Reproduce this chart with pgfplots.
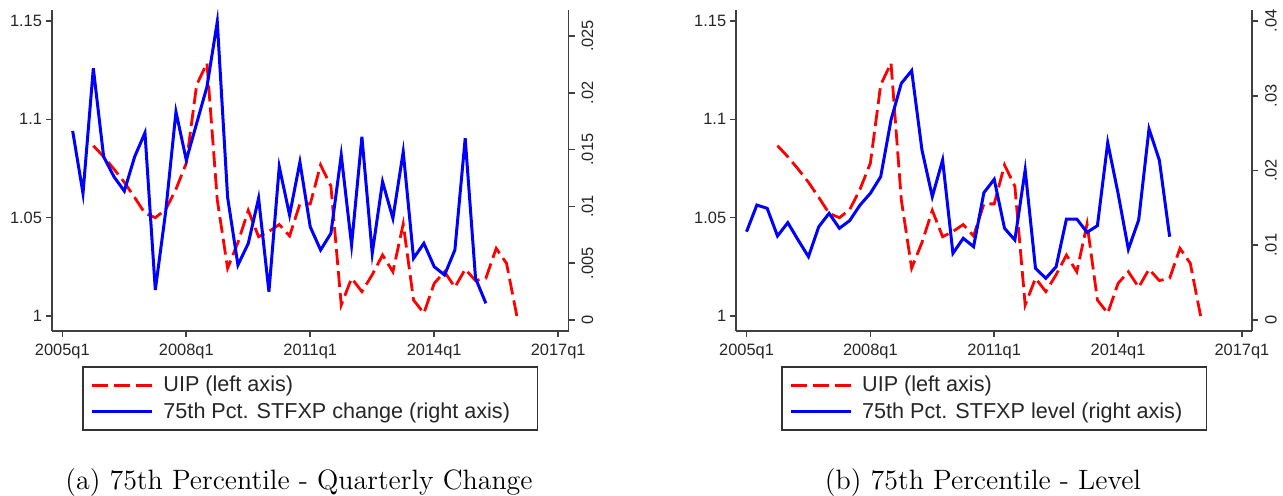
\documentclass[border=0pt]{standalone}
\usepackage{fontspec}
\usepackage{pgfplots}
\usepackage{pgfplotstable}
\pgfplotsset{compat=1.18}
\newfontfamily\arialfont{Liberation Sans}

\pgfplotstableread{
t u
3 1.0866
4 1.0810
5 1.0747
6 1.0680
7 1.0603
8 1.0522
9 1.0500
10 1.0541
11 1.0645
12 1.0777
13 1.1175
14 1.1286
15 1.0590
16 1.0243
17 1.0374
18 1.0537
19 1.0403
20 1.0430
21 1.0465
22 1.0407
23 1.0570
24 1.0570
25 1.0768
26 1.0660
27 1.0056
28 1.0192
29 1.0124
30 1.0210
31 1.0310
32 1.0225
33 1.0468
34 1.0081
35 1.0014
36 1.0166
37 1.0225
38 1.0146
39 1.0238
40 1.0180
41 1.0192
42 1.0344
43 1.0268
44 1.0000
}\uip

\pgfplotstableread{
t v
1 0.01664
2 0.01115
3 0.02215
4 0.01437
5 0.01261
6 0.01135
7 0.01437
8 0.01648
9 0.00264
10 0.00950
11 0.01833
12 0.01408
13 0.01730
14 0.02053
15 0.02625
16 0.01080
17 0.00484
18 0.00674
19 0.01072
20 0.00249
21 0.01349
22 0.00924
23 0.01390
24 0.00820
25 0.00616
26 0.00763
27 0.01452
28 0.00660
29 0.01613
30 0.00587
31 0.01217
32 0.00895
33 0.01481
34 0.00543
35 0.00675
36 0.00469
37 0.00396
38 0.00616
39 0.01599
40 0.00367
41 0.00147
}\chg

\pgfplotstableread{
t v
0 0.01181
1 0.01538
2 0.01494
3 0.01124
4 0.01302
5 0.01070
6 0.00847
7 0.01248
8 0.01427
9 0.01227
10 0.01330
11 0.01538
12 0.01695
13 0.01917
14 0.02676
15 0.03166
16 0.03336
17 0.02274
18 0.01650
19 0.02140
20 0.00892
21 0.01093
22 0.00981
23 0.01703
24 0.01882
25 0.01227
26 0.01070
27 0.02007
28 0.00691
29 0.00558
30 0.00713
31 0.01351
32 0.01351
33 0.01173
34 0.01262
35 0.02372
36 0.01695
37 0.00946
38 0.01338
39 0.02555
40 0.02140
41 0.01114
}\lvl

\pgfplotsset{
  base/.style={
    scale only axis, width=258.25pt, height=160.5pt,
    xmin=-1, xmax=49,
    scaled x ticks=false, scaled y ticks=false,
    axis line style={black!75, line width=0.8pt},
    major tick style={black!75, line width=0.8pt},
    tick align=outside, major tick length=3pt,
    tick label style={font=\arialfont\fontsize{8.2}{9}\selectfont, text=black!85},
  },
  leftax/.style={base, axis y line*=left, axis x line*=bottom,
    ymin=0.99237, ymax=1.1556,
    ytick={1,1.05,1.1,1.15}, yticklabels={1,1.05,1.1,1.15},
    yticklabel style={xshift=1.5pt},
    xtick={0,12,24,36,48}, xticklabels={2005q1,2008q1,2011q1,2014q1,2017q1},
  },
  rightax/.style={base, axis y line*=right, axis x line=none,
    yticklabel style={rotate=90, anchor=north},
    legend style={at={(axis description cs:0.5,-0.109)}, anchor=north,
      draw=black!80, line width=0.8pt,
      font=\arialfont\fontsize{10.8}{13}\selectfont, text=black!85,
      inner xsep=3.7pt, inner ysep=3.5pt, row sep=2pt,
      nodes={inner xsep=0pt, inner ysep=1pt},
      /tikz/every odd column/.append style={column sep=5pt}},
    legend cell align=left,
  },
  uipstyle/.style={red, line width=1.4pt, dash pattern=on 8pt off 3pt},
  bluestyle/.style={blue, line width=1.5pt},
}

\begin{document}
\begin{tikzpicture}
\useasboundingbox (0,0) rectangle (641.5pt,248pt);

% ---- Panel (a)
\begin{axis}[leftax, at={(26pt,82.5pt)}, anchor=south west]
\addplot[uipstyle] table[x=t,y=u] {\uip};
\end{axis}
\begin{axis}[rightax, at={(26pt,82.5pt)}, anchor=south west,
  ymin=-0.000968, ymax=0.02729,
  ytick={0,0.005,0.01,0.015,0.02,0.025}, yticklabels={0,.005,.01,.015,.02,.025},
  legend image code/.code={\draw[#1] (0pt,0pt) -- (30pt,0pt);}]
\addlegendimage{uipstyle}
\addlegendentry{UIP (left axis)}
\addplot[bluestyle] table[x=t,y=v] {\chg};
\addlegendentry{75th Pct. STFXP change (right axis)\hspace*{10pt}}
\end{axis}
\node[anchor=base, font=\fontsize{14}{16}\selectfont] at (149.5pt,3.25pt) {(a) 75th Percentile - Quarterly Change};

% ---- Panel (b)
\begin{axis}[leftax, at={(368.1pt,82.5pt)}, anchor=south west, width=258pt]
\addplot[uipstyle] table[x=t,y=u] {\uip};
\end{axis}
\begin{axis}[rightax, at={(368.1pt,82.5pt)}, anchor=south west, width=258pt,
  ymin=-0.00147, ymax=0.04147,
  ytick={0,0.01,0.02,0.03,0.04}, yticklabels={0,.01,.02,.03,.04},
  legend image code/.code={\draw[#1] (0pt,0pt) -- (30pt,0pt);}]
\addlegendimage{uipstyle}
\addlegendentry{UIP (left axis)}
\addplot[bluestyle] table[x=t,y=v] {\lvl};
\addlegendentry{75th Pct. STFXP level (right axis)\hspace*{8.5pt}}
\end{axis}
\node[anchor=base, font=\fontsize{14}{16}\selectfont] at (491.5pt,3.25pt) {(b) 75th Percentile - Level};
\end{tikzpicture}
\end{document}
